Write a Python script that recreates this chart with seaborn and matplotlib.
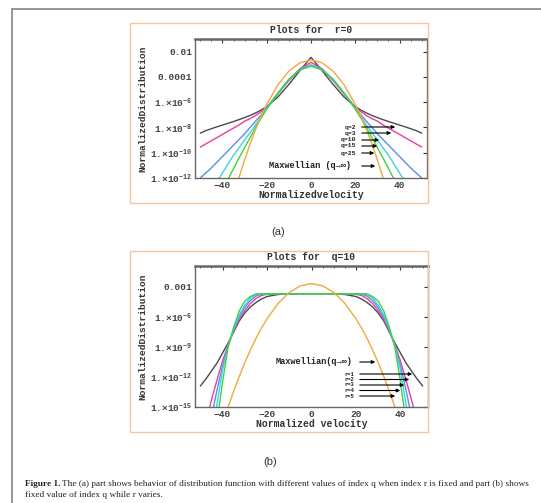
import numpy as np
import pandas as pd
import seaborn as sns
import matplotlib.pyplot as plt
from matplotlib.patches import Rectangle
from matplotlib.ticker import FixedLocator, FixedFormatter, MultipleLocator, NullLocator

# normalized velocity grid (same for every curve)
v = [-50, -47.5, -45, -42.5, -40, -37.5, -35, -32.5, -30, -27.5, -25, -22.5, -20, -15, -10, -5, 0,
     5, 10, 15, 20, 22.5, 25, 27.5, 30, 32.5, 35, 37.5, 40, 42.5, 45, 47.5, 50]
nan = np.nan

# panel (a): log10 of the distribution, r fixed, q varies
a_labels = ["q=2", "q=3", "q=10", "q=15", "q=25"]
black_a = [-8.45, -8.25, -8.1, -7.95, -7.81, -7.67, -7.53, -7.38, -7.22, -7.05, -6.85, -6.62, -6.35, -5.6, -4.6, -3.5, -2.45,
           -3.5, -4.6, -5.6, -6.35, -6.62, -6.85, -7.05, -7.22, -7.38, -7.53, -7.67, -7.81, -7.95, -8.1, -8.25, -8.45]
magenta_a = [-9.55, -9.3, -9.05, -8.8, -8.55, -8.3, -8.05, -7.8, -7.5, -7.3, -7.05, -6.75, -6.4, -5.35, -4.3, -3.35, -2.85,
             -3.35, -4.3, -5.35, -6.4, -6.75, -7.05, -7.3, -7.5, -7.8, -8.05, -8.3, -8.55, -8.8, -9.05, -9.3, -9.55]
blue_a = [-12.0, -11.6, -11.2, -10.75, -10.3, -9.85, -9.4, -8.95, -8.5, -8.0, -7.5, -7.0, -6.45, -5.3, -4.2, -3.4, -3.05,
          -3.4, -4.2, -5.3, -6.45, -7.0, -7.5, -8.0, -8.5, -8.95, -9.4, -9.85, -10.3, -10.75, -11.2, -11.6, -12.0]
cyan_a = [nan, nan, -13.0, -12.3, -11.6, -10.9, -10.2, -9.6, -9.0, -8.4, -7.8, -7.15, -6.5, -5.3, -4.2, -3.42, -3.1,
          -3.42, -4.2, -5.3, -6.5, -7.15, -7.8, -8.4, -9.0, -9.6, -10.2, -10.9, -11.6, -12.3, -13.0, nan, nan]
green_a = [nan, nan, nan, nan, -13.0, -12.1, -11.25, -10.4, -9.6, -8.8, -8.0, -7.25, -6.55, -5.3, -4.2, -3.45, -3.15,
           -3.45, -4.2, -5.3, -6.55, -7.25, -8.0, -8.8, -9.6, -10.4, -11.25, -12.1, -13.0, nan, nan, nan, nan]
maxwell = [nan, nan, nan, nan, -16.7, -15.0, -13.4, -11.95, -10.57, -9.3, -8.15, -7.1, -6.18, -4.64, -3.54, -2.88, -2.66,
           -2.88, -3.54, -4.64, -6.18, -7.1, -8.15, -9.3, -10.57, -11.95, -13.4, -15.0, -16.7, nan, nan, nan, nan]

# panel (b): q fixed, r varies
b_labels = ["r=1", "r=2", "r=3", "r=4", "r=5"]
black_b = [-12.9, -12.2, -11.4, -10.6, -9.6, -8.6, -7.5, -6.4, -5.6, -5.0, -4.55, -4.2, -3.95, -3.75, -3.69, -3.67, -3.67,
           -3.67, -3.69, -3.75, -3.95, -4.2, -4.55, -5.0, -5.6, -6.4, -7.5, -8.6, -9.6, -10.6, -11.4, -12.2, -12.9]
magenta_b = [nan, -16.5, -14.3, -12.3, -10.4, -8.8, -7.4, -6.25, -5.35, -4.65, -4.15, -3.85, -3.72, -3.68, -3.67, -3.67, -3.67,
             -3.67, -3.67, -3.68, -3.72, -3.85, -4.15, -4.65, -5.35, -6.25, -7.4, -8.8, -10.4, -12.3, -14.3, -16.5, nan]
blue_b = [nan, nan, -16.0, -13.3, -10.9, -8.85, -7.3, -6.0, -5.05, -4.35, -3.9, -3.72, -3.68, -3.67, -3.67, -3.67, -3.67,
          -3.67, -3.67, -3.67, -3.68, -3.72, -3.9, -4.35, -5.05, -6.0, -7.3, -8.85, -10.9, -13.3, -16.0, nan, nan]
cyan_b = [nan, nan, -18.0, -14.7, -11.3, -8.9, -7.2, -5.8, -4.8, -4.1, -3.75, -3.69, -3.67, -3.67, -3.67, -3.67, -3.67,
          -3.67, -3.67, -3.67, -3.67, -3.69, -3.75, -4.1, -4.8, -5.8, -7.2, -8.9, -11.3, -14.7, -18.0, nan, nan]
green_b = [nan, nan, nan, -16.5, -12.5, -9.0, -7.0, -5.4, -4.4, -3.95, -3.7, -3.67, -3.67, -3.67, -3.67, -3.67, -3.67,
           -3.67, -3.67, -3.67, -3.67, -3.67, -3.7, -3.95, -4.4, -5.4, -7.0, -9.0, -12.5, -16.5, nan, nan, nan]

colors = ["#4a4a4a", "#e83ea0", "#5a8ee8", "#3ed2e6", "#3fd23f", "#f2a93b"]

a_ticks = [1e-12, 1e-10, 1e-8, 1e-6, 1e-4, 1e-2]
a_ticklabels = ["1.×10$^{-12}$", "1.×10$^{-10}$", "1.×10$^{-8}$", "1.×10$^{-6}$", "0.0001", "0.01"]
b_ticks = [1e-15, 1e-12, 1e-9, 1e-6, 1e-3]
b_ticklabels = ["1.×10$^{-15}$", "1.×10$^{-12}$", "1.×10$^{-9}$", "1.×10$^{-6}$", "0.001"]
x_ticks = [-40, -20, 0, 20, 40]

sns.set_style("white")
plt.rcParams['font.family'] = ['Liberation Mono', 'DejaVu Sans']
plt.rcParams['mathtext.fontset'] = 'custom'
plt.rcParams['mathtext.rm'] = 'Liberation Mono:bold'
plt.rcParams['mathtext.default'] = 'regular'

W, H = 541, 503
fig = plt.figure(figsize=(W / 100, H / 100), dpi=100)


def fx(px):
    return px / W


def fy(py):
    return 1 - py / H


# outer page frame and panel frames
fig.add_artist(Rectangle((fx(12), fy(515)), fx(540), 506 / H, transform=fig.transFigure,
                         fill=False, ec="#8c8c8c", lw=1.3))
for top, bot in [(23, 203), (251, 432)]:
    fig.add_artist(Rectangle((fx(130), fy(bot)), fx(298), (bot - top) / H, transform=fig.transFigure,
                             fill=False, ec="#f6c3a0", lw=1.0))


def panel(rect, curves, ylim, ticks, ticklabels, title, xlabel):
    ax = fig.add_axes(rect)
    names = ["c%d" % i for i in range(len(curves))]
    df = pd.DataFrame({
        "v": v * len(curves),
        "f": 10 ** np.array(sum(curves, []), dtype=float),
        "curve": np.repeat(names, len(v)),
    })
    sns.lineplot(data=df, x="v", y="f", hue="curve", palette=dict(zip(names, colors)),
                 estimator=None, sort=False, legend=False, lw=1.0, ax=ax)
    ax.set_yscale("log")
    ax.set_xlim(-52.4, 52.4)
    ax.set_ylim(*ylim)
    ax.yaxis.set_major_locator(FixedLocator(ticks))
    ax.yaxis.set_major_formatter(FixedFormatter(ticklabels))
    ax.yaxis.set_minor_locator(NullLocator())
    ax.set_xticks(x_ticks)
    ax.xaxis.set_minor_locator(MultipleLocator(5))
    ax.tick_params(which="both", direction="in", top=True, right=True, color="#333333",
                   labelsize=6.8, labelcolor="#444444", pad=2)
    ax.tick_params(which="major", length=3, width=0.8)
    ax.tick_params(which="minor", length=1.5, width=0.6)
    for lab in ax.get_xticklabels() + ax.get_yticklabels():
        lab.set_fontweight("bold")
    for s in ax.spines.values():
        s.set_color("#666666")
        s.set_linewidth(1.0)
    ax.spines["top"].set_linewidth(1.8)
    ax.set_title(title, fontsize=7, fontweight="bold", color="#333333", pad=4)
    ax.set_xlabel(xlabel, fontsize=7, fontweight="bold", color="#333333", labelpad=0)
    ax.set_ylabel("NormalizedDistribution", fontsize=6.8, fontweight="bold", color="#333333", labelpad=2)
    return ax


ax1 = panel([fx(195), fy(178), fx(232), 139 / H],
            [black_a, magenta_a, blue_a, cyan_a, green_a, maxwell],
            (1e-12, 1e-1), a_ticks, a_ticklabels, "Plots for  r=0", "Normalizedvelocity")
ax2 = panel([fx(195), fy(407), fx(233), 141 / H],
            [black_b, magenta_b, blue_b, cyan_b, green_b, maxwell],
            (1e-15, 10 ** -0.9), b_ticks, b_ticklabels, "Plots for  q=10", "Normalized velocity")


def arrow(ax, x0, x1, y):
    # coordinates in figure pixels converted to axes fraction
    bb = ax.get_position()
    ax0 = (fx(x0) - bb.x0) / bb.width
    ax1_ = (fx(x1) - bb.x0) / bb.width
    ay = (fy(y) - bb.y0) / bb.height
    ax.annotate("", xy=(ax1_, ay), xytext=(ax0, ay), xycoords="axes fraction",
                arrowprops=dict(arrowstyle="-|>", color="black", lw=0.8, mutation_scale=5))


def label(ax, x, y, s, size=5):
    bb = ax.get_position()
    ax.text((fx(x) - bb.x0) / bb.width, (fy(y) - bb.y0) / bb.height, s, transform=ax.transAxes,
            ha="right", va="center", fontsize=size, fontweight="bold", color="#222222")


# panel (a) legend arrows
for lab, y, xe in zip(a_labels, [127, 133, 140, 146, 153], [398, 394, 382, 380, 377]):
    arrow(ax1, 359, xe, y)
    label(ax1, 356, y, lab, size=4.6)
arrow(ax1, 359, 378, 166)
label(ax1, 351, 166, "Maxwellian (q→∞)", size=6.2)

# panel (b) legend arrows
arrow(ax2, 357, 378, 362)
label(ax2, 353, 362, "Maxwellian(q→∞)", size=6.2)
for lab, y, xe in zip(b_labels, [374, 379.5, 385, 390.5, 396], [415, 412, 407, 403, 398]):
    arrow(ax2, 357, xe, y)
    label(ax2, 354, y, lab, size=4.0)

# sub-figure letters and caption
fig.text(fx(278), fy(232), "(a)", ha="center", va="center", fontsize=8, family="Liberation Sans", color="#333333")
fig.text(fx(270), fy(462), "(b)", ha="center", va="center", fontsize=8, family="Liberation Sans", color="#333333")

t1 = fig.text(fx(25), fy(484), "Figure 1.", ha="left", va="center", fontsize=6.7,
              family="Liberation Serif", fontweight="bold", color="#222222")
fig.canvas.draw()
ext = t1.get_window_extent()
fig.text(ext.x1 / W + 2 / W, fy(484),
         "The (a) part shows behavior of distribution function with different values of index q when index r is fixed and part (b) shows",
         ha="left", va="center", fontsize=6.7, family="Liberation Serif", color="#222222")
fig.text(fx(25), fy(495), "fixed value of index q while r varies.", ha="left", va="center",
         fontsize=6.7, family="Liberation Serif", color="#222222")

fig.savefig("out.png", dpi=100)
